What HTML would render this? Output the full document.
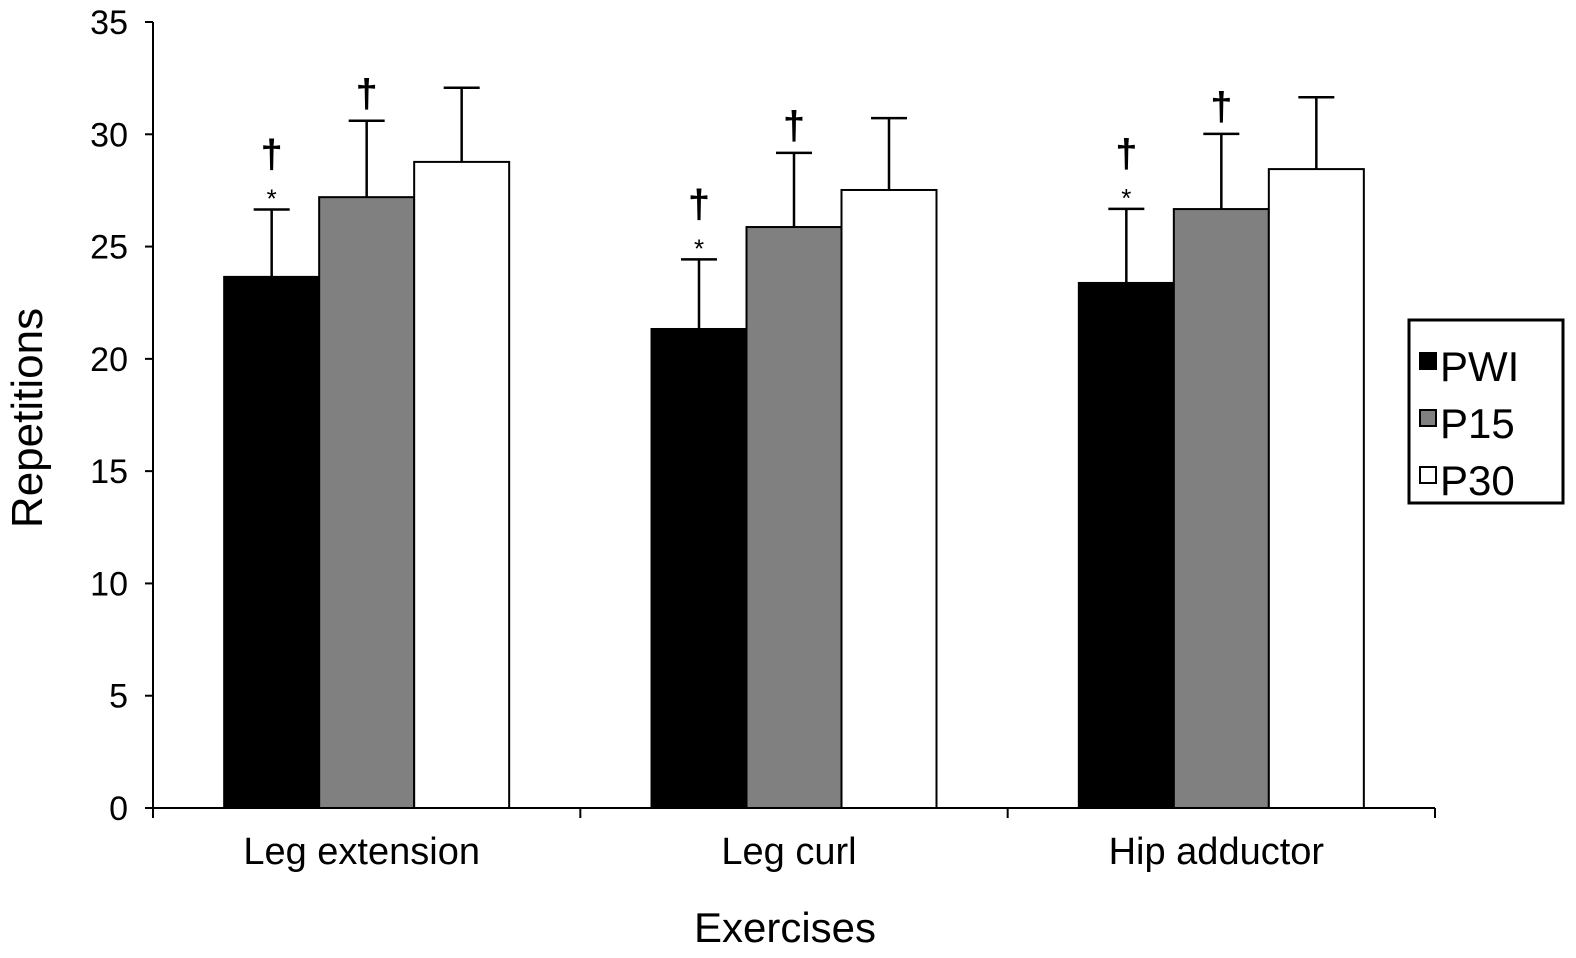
<!DOCTYPE html>
<html><head><meta charset="utf-8"><style>
html,body{margin:0;padding:0;background:#fff;width:1576px;height:958px;overflow:hidden}
svg{display:block}
text{font-family:"Liberation Sans",Arial,sans-serif;fill:#000}
</style></head><body>
<svg id="chart" width="1576" height="958" viewBox="0 0 1576 958" xmlns="http://www.w3.org/2000/svg" style="position:absolute;left:0;top:0"></svg>
<script>
const categories=["Leg extension","Leg curl","Hip adductor"];
const seriesNames=["PWI","P15","P30"];
const pwiValues=[23.65,21.33,23.38];
const p15Values=[27.2,25.87,26.67];
const p30Values=[28.77,27.52,28.45];
const pwiErr=[3.0,3.1,3.3];
const p15Err=[3.4,3.3,3.35];
const p30Err=[3.3,3.2,3.2];
const pwiMarks=["†*","†*","†*"];
const p15Marks=["†","†","†"];
const yTicks=[0,5,10,15,20,25,30,35];
const colors=["#000000","#808080","#ffffff"];

const svg=document.getElementById('chart');
const NS="http://www.w3.org/2000/svg";
const x0=153,x1=1435,yBase=808,yTop=22,yMax=35;
const y=v=>yBase-(v/yMax)*(yBase-yTop);
const catW=(x1-x0)/categories.length;
const barW=95;
function el(t,a,p){const e=document.createElementNS(NS,t);for(const k in a)e.setAttribute(k,a[k]);(p||svg).appendChild(e);return e;}

let ax=el('line',{x1:x0,y1:yTop,x2:x0,y2:yBase,stroke:'#000','stroke-width':2});


ax=el('line',{x1:x0,y1:yBase,x2:x1,y2:yBase,stroke:'#000','stroke-width':2});


yTicks.forEach(v=>{
  const t=el('line',{x1:x0-8,y1:y(v),x2:x0,y2:y(v),stroke:'#000','stroke-width':2});
  
  
  const l=el('text',{x:x0-25,y:y(v)+12,'font-size':34,'text-anchor':'end'});
  l.textContent=v;
  
  
});
for(let i=0;i<=categories.length;i++){
  const t=el('line',{x1:x0+i*catW,y1:yBase,x2:x0+i*catW,y2:yBase+10,stroke:'#000','stroke-width':2});
  
  
}
const series=[pwiValues,p15Values,p30Values];
const errs=[pwiErr,p15Err,p30Err];
categories.forEach((c,i)=>{
  const cx=x0+catW*(i+0.5);
  const l=el('text',{x:cx-5,y:864,'font-size':38,'text-anchor':'middle'});
  l.textContent=c;
  
  
  series.forEach((s,j)=>{
    const bx=cx-barW*1.5+j*barW;
    const top=y(s[i]);
    const r=el('rect',{x:bx,y:top,width:barW,height:yBase-top,fill:colors[j],stroke:'#000','stroke-width':2});
    
    
    const mid=bx+barW/2, et=y(s[i]+errs[j][i]);
    const e=el('path',{d:`M${mid},${top} V${et} M${mid-18},${et} H${mid+18}`,stroke:'#000','stroke-width':2.5,fill:'none'});
    
    
    const marks=j===0?pwiMarks[i]:(j===1?p15Marks[i]:'');
    if(marks){
      const hasStar=marks.includes('*');
      const d=el('text',{x:mid,y:et-(hasStar?42:14),'font-size':40,'text-anchor':'middle','font-weight':'bold'});
      d.textContent='†';
      
      
      if(hasStar){
        const st=el('text',{x:mid,y:et-2,'font-size':26,'text-anchor':'middle'});
        st.textContent='*';
        
        
      }
    }
  });
});
</script>
<svg style="position:absolute;left:0;top:0" width="1576" height="958">
  <text x="785" y="942" font-size="42" text-anchor="middle">Exercises</text>
  <text transform="translate(42,418) rotate(-90)" font-size="44" text-anchor="middle">Repetitions</text>
  <g>
    <rect x="1409" y="320" width="154" height="183" fill="#fff" stroke="#000" stroke-width="3"/>
    <rect x="1420" y="353" width="16" height="16" fill="#000" stroke="#000" stroke-width="2"/>
    <text x="1440" y="381" font-size="42">PWI</text>
    <rect x="1420" y="410" width="16" height="16" fill="#808080" stroke="#000" stroke-width="2"/>
    <text x="1440" y="438" font-size="42">P15</text>
    <rect x="1420" y="467" width="16" height="16" fill="#fff" stroke="#000" stroke-width="2"/>
    <text x="1440" y="495" font-size="42">P30</text>
  </g>
</svg>
</body></html>
